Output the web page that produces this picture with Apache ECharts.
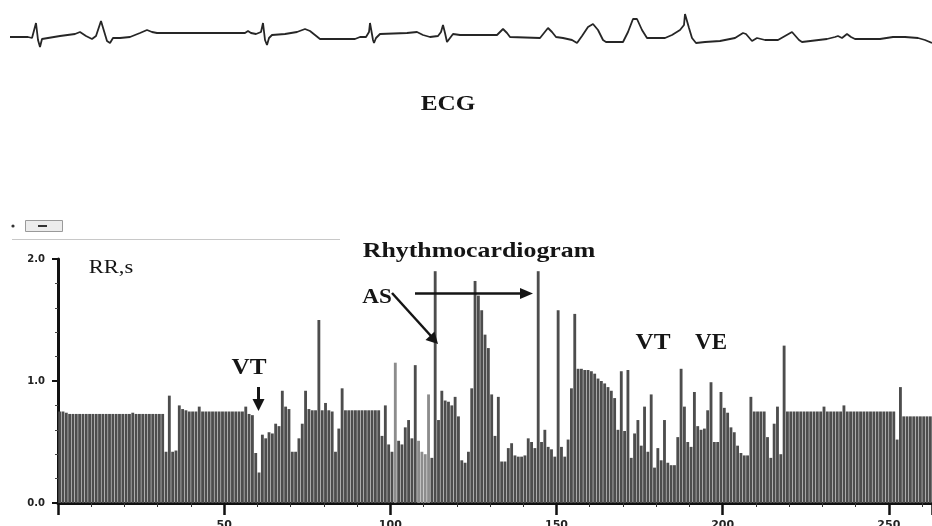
<!DOCTYPE html>
<html>
<head>
<meta charset="utf-8">
<script src="https://cdn.jsdelivr.net/npm/echarts@6/dist/echarts.min.js"></script>
<style>
  html, body { margin: 0; padding: 0; background: #fff; }
  #chart { width: 932px; height: 526px; }
</style>
</head>
<body>
<div id="chart"></div>
<script>
// RR intervals (s), one per beat, in recording order
const rrValues = [
  0.75,0.75,0.74,0.73,0.73,0.73,0.73,0.73,0.73,0.73,
  0.73,0.73,0.73,0.73,0.73,0.73,0.73,0.73,0.73,0.73,
  0.73,0.73,0.74,0.73,0.73,0.73,0.73,0.73,0.73,0.73,
  0.73,0.73,0.42,0.88,0.42,0.43,0.80,0.77,0.76,0.75,
  0.75,0.75,0.79,0.75,0.75,0.75,0.75,0.75,0.75,0.75,
  0.75,0.75,0.75,0.75,0.75,0.75,0.79,0.73,0.72,0.41,
  0.25,0.56,0.53,0.58,0.57,0.65,0.63,0.92,0.79,0.77,
  0.42,0.42,0.53,0.65,0.92,0.77,0.76,0.76,1.50,0.76,
  0.82,0.76,0.75,0.42,0.61,0.94,0.76,0.76,0.76,0.76,
  0.76,0.76,0.76,0.76,0.76,0.76,0.76,0.55,0.80,0.48,
  0.42,1.15,0.51,0.48,0.62,0.68,0.53,1.13,0.51,0.42,
  0.40,0.89,0.37,1.90,0.68,0.92,0.84,0.83,0.80,0.87,
  0.71,0.35,0.33,0.42,0.94,1.82,1.70,1.58,1.38,1.27,
  0.89,0.55,0.87,0.34,0.34,0.45,0.49,0.39,0.38,0.38,
  0.39,0.53,0.50,0.45,1.90,0.50,0.60,0.46,0.44,0.38,
  1.58,0.46,0.38,0.52,0.94,1.55,1.10,1.10,1.09,1.09,
  1.08,1.06,1.02,1.00,0.98,0.95,0.92,0.86,0.60,1.08,
  0.59,1.09,0.37,0.57,0.68,0.47,0.79,0.42,0.89,0.29,
  0.45,0.35,0.68,0.33,0.31,0.31,0.54,1.10,0.79,0.50,
  0.46,0.91,0.63,0.60,0.61,0.76,0.99,0.50,0.50,0.91,
  0.78,0.74,0.62,0.58,0.47,0.41,0.39,0.39,0.87,0.75,
  0.75,0.75,0.75,0.54,0.37,0.65,0.79,0.40,1.29,0.75,
  0.75,0.75,0.75,0.75,0.75,0.75,0.75,0.75,0.75,0.75,
  0.79,0.75,0.75,0.75,0.75,0.75,0.80,0.75,0.75,0.75,
  0.75,0.75,0.75,0.75,0.75,0.75,0.75,0.75,0.75,0.75,
  0.75,0.75,0.52,0.95,0.71,0.71,0.71,0.71,0.71,0.71,
  0.71,0.71,0.71
];

// ECG strip: [sample position, amplitude]
const ecgTrace = [
  [10,-0.1],[28,-0.1],[32,-0.2],[34,0],[36,1.3],[37,1.2],[38,-0.4],[40,-1.1],[42,-0.3],[44,-0.1],
  [60,0],[75,0.2],[80,0.4],[86,0],[92,-0.3],[96,0],[101,1.5],[103,1.4],[107,-0.5],[110,-0.7],
  [113,-0.2],[120,-0.2],[130,-0.1],[140,0.3],[147,0.6],[152,0.4],[157,0.3],[245,0.3],[248,0.5],[251,0.3],
  [256,0.2],[261,0.4],[263,1.3],[264,1.3],[265,-0.4],[267,-0.9],[269,-0.2],[272,0.1],[285,0.2],[297,0.4],
  [305,0.7],[310,0.5],[315,0.1],[320,-0.3],[355,-0.3],[360,-0.1],[366,-0.1],[369,0.4],[370,1.3],[371,1.3],
  [373,-0.4],[374,-0.7],[376,-0.2],[380,0.2],[407,0.3],[417,0.4],[423,0.1],[430,-0.1],[438,0],[441,0.4],
  [443,1.1],[445,0.3],[447,-0.6],[450,-0.2],[453,0.2],[460,0.1],[497,0.1],[503,0.7],[505,0.9],[507,0.3],
  [510,-0.1],[540,-0.2],[548,0.8],[552,0.4],[556,-0.1],[563,-0.2],[572,-0.4],[577,-0.7],[582,0],[588,0.9],
  [593,1.2],[598,0.6],[603,-0.4],[606,-0.6],[623,-0.6],[628,0.4],[633,1.7],[637,1.7],[642,0.6],[647,-0.2],
  [665,-0.2],[672,0.1],[680,0.6],[684,1.1],[685,2.2],[686,2.0],[689,0.8],[692,-0.2],[696,-0.7],[705,-0.6],
  [720,-0.5],[735,-0.2],[743,0.3],[746,0.2],[752,-0.5],[757,-0.2],[765,-0.4],[778,-0.4],[792,0.4],[799,-0.4],
  [802,-0.6],[827,-0.3],[835,-0.1],[838,0],[842,-0.2],[847,0.2],[851,-0.1],[855,-0.3],[880,-0.3],[893,-0.1],
  [905,-0.1],[918,-0.2],[925,-0.4],[932,-0.7]
];

// Axis settings
const beatCount = rrValues.length;
const beatTickStep = 50;
const rrMax = 2.0;

// Beats drawn in a lighter shade (artefact segment)
const lightBeats = [101, 108, 109, 110, 111];

const chart = echarts.init(document.getElementById('chart'), null, { renderer: 'canvas' });

const serif = '"Liberation Serif", "Times New Roman", serif';
const ink = '#151515';

function label(text, x, y, size, sx, weight) {
  return {
    type: 'text', x: x, y: y, scaleX: sx, z: 20,
    style: {
      text: text, fill: ink, fontFamily: serif, fontSize: size,
      fontWeight: weight || 'bold', textAlign: 'center', textVerticalAlign: 'middle'
    }
  };
}
function stroke(x1, y1, x2, y2, w, c) {
  return { type: 'line', z: 20, shape: { x1, y1, x2, y2 }, style: { stroke: c || ink, lineWidth: w } };
}
function head(points) {
  return { type: 'polygon', z: 20, shape: { points }, style: { fill: ink } };
}

const option = {
  animation: false,
  backgroundColor: '#ffffff',
  grid: [
    { left: 0, top: 0, width: 932, height: 70, containLabel: false, outerBoundsMode: 'none' },
    { left: 58, top: 259, right: 0, height: 244, containLabel: false, outerBoundsMode: 'none' }
  ],
  xAxis: [
    { gridIndex: 0, type: 'value', min: 0, max: 932, show: false },
    {
      gridIndex: 1, type: 'value', min: 0, max: beatCount, interval: beatTickStep,
      axisLine: { show: true, lineStyle: { color: '#111', width: 3 } },
      axisTick: { show: true, length: 12, lineStyle: { color: '#111', width: 2.5 } },
      minorTick: { show: true, splitNumber: 5, length: 4, lineStyle: { color: '#333', width: 1 } },
      splitLine: { show: false },
      axisLabel: {
        showMinLabel: false, showMaxLabel: false, margin: 17,
        color: '#222', fontSize: 11, fontWeight: 'bold', fontFamily: 'DejaVu Sans'
      }
    }
  ],
  yAxis: [
    { gridIndex: 0, type: 'value', min: -3.4, max: 3.6, show: false },
    {
      gridIndex: 1, type: 'value', min: 0, max: rrMax, interval: 1,
      axisLine: { show: true, lineStyle: { color: '#111', width: 3 } },
      axisTick: { show: true, length: 6, lineStyle: { color: '#111', width: 2 } },
      minorTick: { show: true, splitNumber: 5, length: 3, lineStyle: { color: '#444', width: 1 } },
      splitLine: { show: false },
      axisLabel: {
        margin: 13, color: '#222', fontSize: 10, fontWeight: 'bold', fontFamily: 'DejaVu Sans',
        formatter: v => v.toFixed(1)
      }
    }
  ],
  series: [
    {
      type: 'line', xAxisIndex: 0, yAxisIndex: 0,
      data: ecgTrace, showSymbol: false, smooth: false,
      lineStyle: { color: '#262626', width: 1.8 }
    },
    {
      type: 'bar', xAxisIndex: 1, yAxisIndex: 1,
      data: rrValues.map((v, i) => [i + 0.5, v]),
      barWidth: 2.85,
      itemStyle: {
        color: p => (lightBeats.indexOf(p.dataIndex) >= 0 ? '#8c8c8c' : '#4d4d4d')
      }
    }
  ],
  graphic: [
    // separator and small toolbar button above the rhythmogram
    { type: 'line', shape: { x1: 12, y1: 239.5, x2: 340, y2: 239.5 }, style: { stroke: '#c8c8c8', lineWidth: 1 } },
    { type: 'circle', shape: { cx: 13, cy: 226, r: 1.6 }, style: { fill: '#333' } },
    { type: 'rect', shape: { x: 25.5, y: 220.5, width: 37, height: 11 }, style: { fill: '#ececec', stroke: '#9a9a9a', lineWidth: 1 } },
    { type: 'line', shape: { x1: 38, y1: 226, x2: 47, y2: 226 }, style: { stroke: '#333', lineWidth: 2 } },

    label('ECG', 448, 105, 21, 1.2),
    label('Rhythmocardiogram', 479, 252, 21, 1.23),
    label('RR,s', 111, 268, 18, 1.25, 'normal'),
    label('VT', 249, 368, 24, 1.05),
    label('VT', 653, 343, 24, 1.05),
    label('VE', 711, 343, 23, 1.0),
    label('AS', 377, 298, 21, 1.1),

    // VT marker arrow
    stroke(258.5, 387, 258.5, 401, 3),
    head([[252.5, 399], [264.5, 399], [258.5, 411]]),
    // AS diagonal arrow
    stroke(392, 293, 431, 336, 2.5),
    head([[425.5, 340], [434.5, 331.5], [438, 344]]),
    // AS horizontal arrow
    stroke(415, 293.5, 522, 293.5, 2.5),
    head([[520, 288], [520, 299], [533, 293.5]])
  ]
};

chart.setOption(option);
</script>
</body>
</html>
